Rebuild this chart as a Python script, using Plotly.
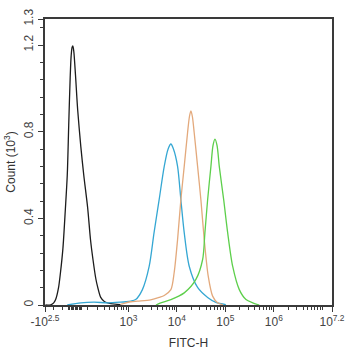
import numpy as np
import plotly.graph_objects as go

# Logicle-style display: linear near zero, log decades above ~10^3
C = 80.0


def disp(v):
    v = np.asarray(v, dtype=float)
    return np.arcsinh(v / (2 * C)) / np.log(10) + np.log10(C)


# Histogram curves, x in display units (decades), y in counts x10^3
black_x = [1.29, 1.40, 1.46, 1.50, 1.56, 1.60, 1.65, 1.70, 1.74, 1.77, 1.80, 1.82, 1.84, 1.855,
           1.875, 1.91, 1.955, 2.02, 2.08, 2.16, 2.22, 2.27, 2.33, 2.37, 2.43, 2.51, 2.64, 2.84]
black_y = [0.0, 0.001, 0.01, 0.025, 0.08, 0.15, 0.26, 0.44, 0.60, 0.83, 1.05, 1.15, 1.19, 1.196,
           1.17, 1.06, 0.90, 0.73, 0.60, 0.45, 0.30, 0.21, 0.12, 0.08, 0.035, 0.015, 0.006, 0.002]

blue_x = [1.74, 2.02, 2.29, 2.57, 2.84, 2.95, 3.05, 3.15, 3.29, 3.43, 3.53, 3.635, 3.74, 3.82,
          3.877, 3.93, 4.015, 4.083, 4.152, 4.255, 4.428, 4.635, 4.806, 5.01]
blue_y = [0.0, 0.010, 0.013, 0.010, 0.013, 0.015, 0.018, 0.025, 0.071, 0.179, 0.334, 0.486, 0.640,
          0.720, 0.743, 0.720, 0.640, 0.486, 0.334, 0.179, 0.081, 0.035, 0.012, 0.002]

orange_x = [2.84, 3.05, 3.19, 3.46, 3.635, 3.74, 3.877, 3.945, 4.015, 4.083, 4.152, 4.221, 4.26,
            4.29, 4.32, 4.358, 4.428, 4.496, 4.565, 4.647, 4.738, 4.841, 4.95]
orange_y = [0.003, 0.015, 0.018, 0.024, 0.035, 0.044, 0.071, 0.150, 0.302, 0.486, 0.640, 0.795, 0.870,
            0.896, 0.870, 0.795, 0.640, 0.486, 0.302, 0.133, 0.041, 0.010, 0.001]

green_x = [3.57, 3.67, 3.877, 4.152, 4.393, 4.532, 4.579, 4.635, 4.703, 4.745, 4.786, 4.83,
           4.875, 4.966, 5.048, 5.151, 5.288, 5.426, 5.565, 5.70]
green_y = [0.0, 0.010, 0.025, 0.056, 0.118, 0.210, 0.334, 0.486, 0.640, 0.735, 0.766, 0.735,
           0.640, 0.486, 0.334, 0.179, 0.071, 0.025, 0.010, 0.0]

# Axis ticks
x_major_vals = [-10 ** 2.5, 1e3, 1e4, 1e5, 1e6, 10 ** 7.2]
x_major_text = ["-10<sup>2.5</sup>", "10<sup>3</sup>", "10<sup>4</sup>", "10<sup>5</sup>",
                "10<sup>6</sup>", "10<sup>7.2</sup>"]
x_minor_vals = ([-300, -200, -100] + list(range(-50, 60, 10)) + [100, 200, 300, 400, 500, 600, 700, 800, 900]
                + [k * 10 ** n for n in range(3, 7) for k in range(2, 10)] + [1e7])

y_major_vals = [0, 0.4, 0.8, 1.2, 1.32]
y_major_text = ["0", "0.4", "0.8", "1.2", "1.3"]
y_minor_step = 0.08

x_lo = float(disp(-10 ** 2.5))
x_hi = 7.2

fig = go.Figure()
for xs, ys, col in [
    (black_x, black_y, "#1c1c1c"),
    (blue_x, blue_y, "#35a7d3"),
    (orange_x, orange_y, "#e3a97c"),
    (green_x, green_y, "#5dcf4b"),
]:
    fig.add_trace(go.Scatter(x=xs, y=ys, mode="lines",
                             line=dict(color=col, width=1.3, shape="spline", smoothing=0.8),
                             showlegend=False, hoverinfo="skip"))

FONT = "Liberation Sans, Arial, sans-serif"
tick_font = dict(family=FONT, size=12, color="#444444")

fig.update_layout(
    width=346, height=350,
    margin=dict(l=45, r=14, t=19, b=45),
    paper_bgcolor="white", plot_bgcolor="white",
    xaxis=dict(
        range=[x_lo, x_hi], showgrid=False, zeroline=False, automargin=False,
        showline=True, mirror=True, linecolor="#3a3a3a", linewidth=1.5,
        tickmode="array", tickvals=[float(v) for v in disp(x_major_vals)], ticktext=x_major_text,
        ticks="outside", ticklen=5, tickwidth=1, tickcolor="#3a3a3a",
        minor=dict(tickmode="array", tickvals=[float(v) for v in disp(x_minor_vals)],
                   ticks="outside", ticklen=3, tickwidth=1, tickcolor="#3a3a3a"),
        tickfont=tick_font,
        title=dict(text="FITC-H", font=dict(family=FONT, size=12, color="#333333"), standoff=11),
    ),
    yaxis=dict(
        range=[0, 1.32], showgrid=False, zeroline=False, automargin=False,
        showline=True, mirror=True, linecolor="#3a3a3a", linewidth=1.5,
        tickmode="array", tickvals=y_major_vals, ticktext=y_major_text, tickangle=-90,
        ticks="outside", ticklen=5, tickwidth=1, tickcolor="#3a3a3a",
        minor=dict(dtick=y_minor_step, tick0=0, ticks="outside", ticklen=3, tickwidth=1,
                   tickcolor="#3a3a3a"),
        tickfont=tick_font,
        title=dict(text="Count (10<sup>3</sup>)", font=dict(family=FONT, size=12, color="#333333"),
                   standoff=4),
    ),
)

fig.write_html("out.html")
